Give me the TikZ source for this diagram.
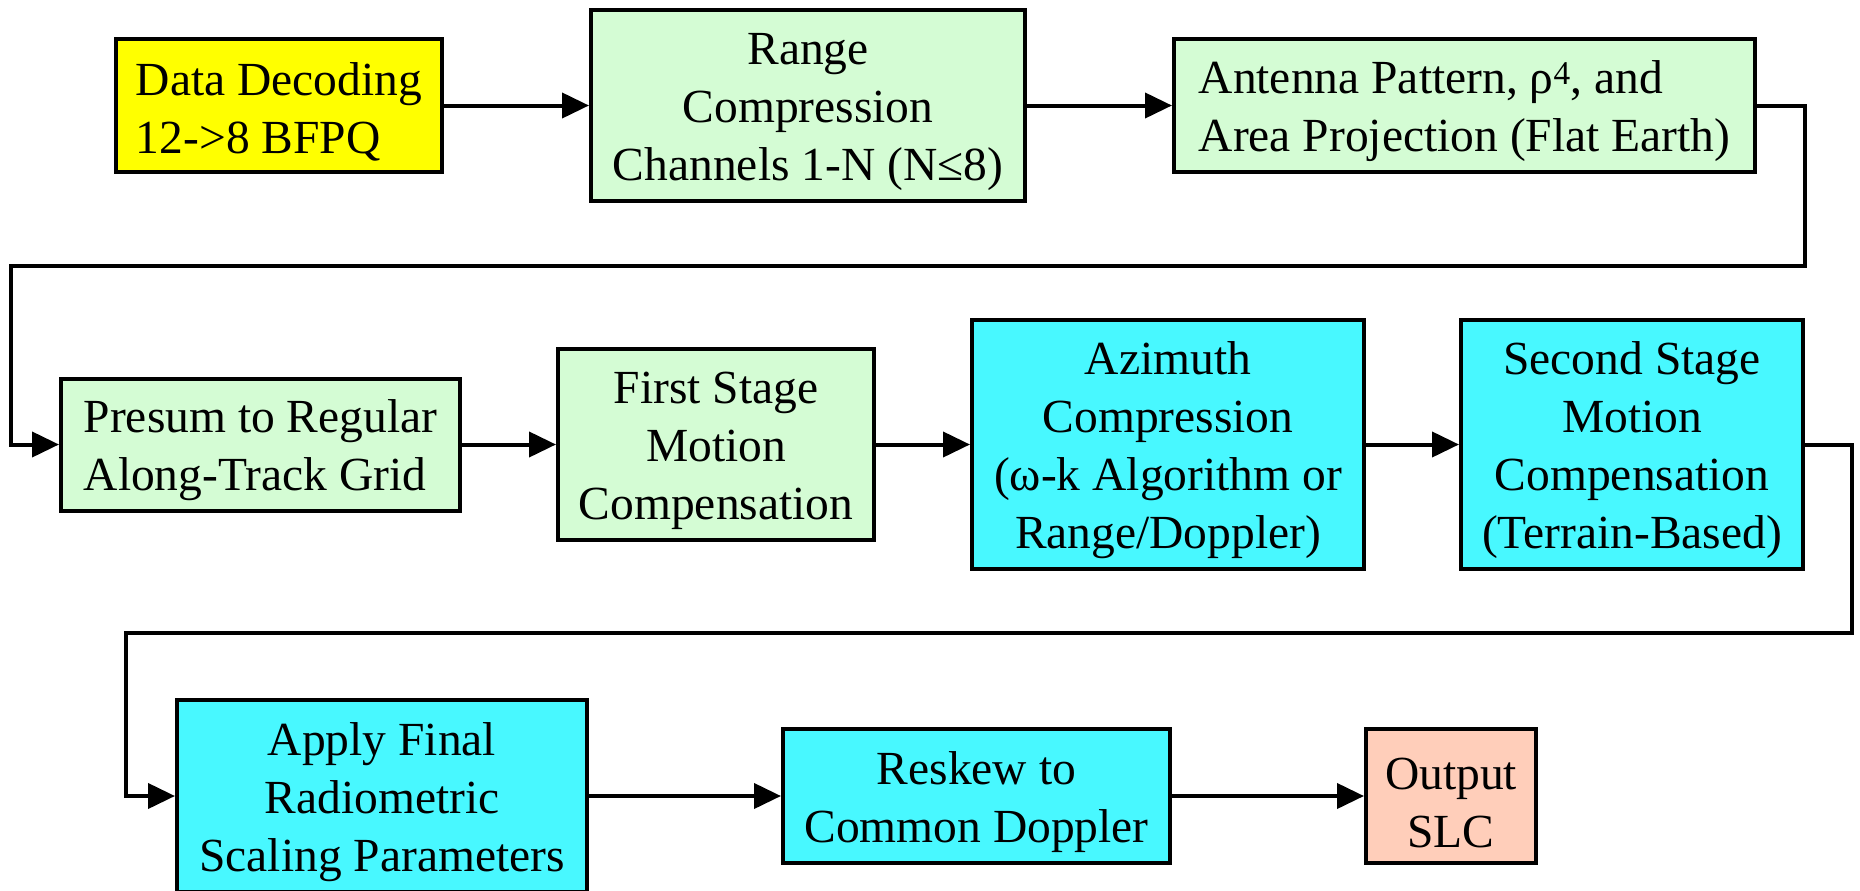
\documentclass[tikz,border=0pt]{standalone}
\usepackage{fontspec}
\setmainfont{Liberation Serif}
\usetikzlibrary{arrows.meta}
\definecolor{cyellow}{RGB}{255,255,0}
\definecolor{cgreen}{RGB}{212,252,212}
\definecolor{ccyan}{RGB}{72,248,255}
\definecolor{csalmon}{RGB}{255,206,186}
\newcommand{\toplift}{\rule{0pt}{45pt}}
\begin{document}
\begin{tikzpicture}[x=1pt,y=-1pt,
  box/.style={draw=black, line width=4pt, font=\fontsize{47.5}{58}\selectfont,
              align=center, inner sep=0pt, anchor=center},
  lbox/.style={box, align=left},
  conn/.style={line width=4pt, -{Triangle[length=27pt,width=25pt]}},
  wire/.style={line width=4pt}
]
\useasboundingbox (0,0) rectangle (1860,891);

\node[lbox, fill=cyellow, minimum width=326pt, minimum height=133pt] (dd) at (279,105.5)
  {\toplift Data Decoding\\12->8 BFPQ};
\node[box, fill=cgreen, minimum width=434pt, minimum height=191pt] (rc) at (808,105.5)
  {\toplift Range\\Compression\\Channels 1-N (N≤8)};
\node[lbox, fill=cgreen, minimum width=581pt, minimum height=133pt] (ap) at (1464.5,105.5)
  {\toplift Antenna Pattern, ρ\textsuperscript{4}, and\\Area Projection (Flat Earth)};

\node[lbox, fill=cgreen, minimum width=399pt, minimum height=132pt] (pr) at (260.5,444.5)
  {\toplift Presum to Regular\\Along-Track Grid};
\node[box, fill=cgreen, minimum width=316pt, minimum height=191pt] (fs) at (716,444.5)
  {\toplift First Stage\\Motion\\Compensation};
\node[box, fill=ccyan, minimum width=392pt, minimum height=249pt] (az) at (1168,444.5)
  {\toplift Azimuth\\Compression\\(ω-k Algorithm or\\Range/Doppler)};
\node[box, fill=ccyan, minimum width=342pt, minimum height=249pt] (ss) at (1632,444.5)
  {\toplift Second Stage\\Motion\\Compensation\\(Terrain-Based)};

\node[box, fill=ccyan, minimum width=410pt, minimum height=192pt] (af) at (382,796)
  {\toplift Apply Final\\Radiometric\\Scaling Parameters};
\node[box, fill=ccyan, minimum width=387pt, minimum height=134pt] (rs) at (976.5,796)
  {\toplift Reskew to\\Common Doppler};
\node[box, fill=csalmon, minimum width=170pt, minimum height=134pt] (os) at (1451,796)
  {\toplift Output\\SLC};

\coordinate (c1) at (1805,105.5);
\coordinate (c2) at (1805,266);
\coordinate (c3) at (11,266);
\coordinate (c4) at (11,444.5);
\coordinate (d1) at (1852,444.5);
\coordinate (d2) at (1852,633);
\coordinate (d3) at (126,633);
\coordinate (d4) at (126,796);

\draw[conn] (dd) -- (rc);
\draw[conn] (rc) -- (ap);
\draw[conn] (ap.east) -- (c1) -- (c2) -- (c3) -- (c4) -- (pr.west);
\draw[conn] (pr) -- (fs);
\draw[conn] (fs) -- (az);
\draw[conn] (az) -- (ss);
\draw[conn] (ss.east) -- (d1) -- (d2) -- (d3) -- (d4) -- (af.west);
\draw[conn] (af) -- (rs);
\draw[conn] (rs) -- (os);
\end{tikzpicture}
\end{document}
